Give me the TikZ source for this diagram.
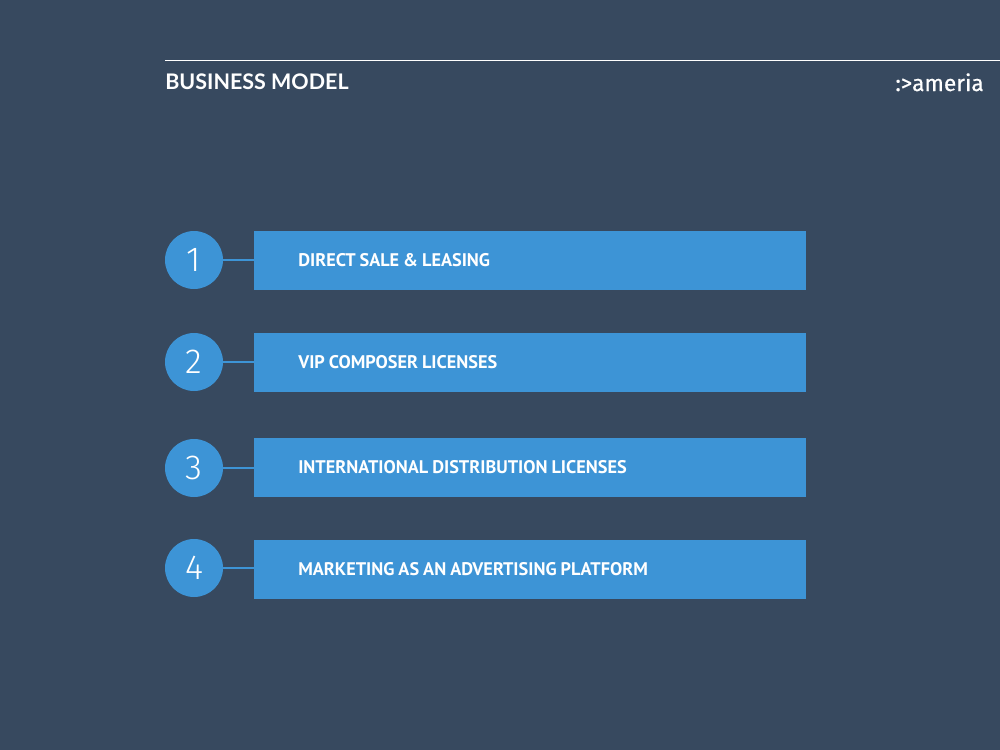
\documentclass[tikz,border=0pt]{standalone}
\usepackage{fontspec}
\setmainfont{PT Sans}
\newfontfamily\titlefont{Lato}
\newfontfamily\thinfont{Fira Sans Light}
\newfontfamily\logofont[FakeBold=.5]{Fira Sans}
\usepackage{xcolor}
\definecolor{Slate}{HTML}{37495F}
\definecolor{Sky}{HTML}{3D94D6}
\usetikzlibrary{positioning}
\tikzset{
	node distance = 23.25pt,
	numdot/.style={
		circle,
		fill=Sky,
		text=white,
		outer sep=0pt,
		inner sep=0pt,
		minimum size=43.5pt,
		font=\thinfont\fontsize{26pt}{26pt}\selectfont
	},
	itembar/.style={
		fill=Sky,
		text=white,
		outer sep=0pt,
		inner xsep=33.2pt,
		inner ysep=0pt,
		text width=347.6pt,
		align=left,
		minimum height=44.25pt,
		font=\fontsize{13.7pt}{15pt}\selectfont\bfseries,
		execute at begin node={\spaceskip=3pt\relax}
	},
	link/.style={
		draw=Sky,
		line width=1.5pt
	}
}
\begin{document}
\begin{tikzpicture}[x=.75pt, y=-.75pt]
	\useasboundingbox[fill=Slate] (0,0) rectangle (1000,750);

	\coordinate (ruleL) at (165,60.5);
	\coordinate (ruleR) at (1000,60.5);
	\draw[white, line width=.9pt] (ruleL) -- (ruleR);
	\node (title) [anchor=base west, inner sep=0pt, text=white] at (165,89) {\titlefont\fontsize{16.1pt}{18pt}\selectfont\bfseries BUSINESS MODEL};
	\node (logo) [anchor=base east, inner sep=0pt, text=white] at (984,91) {\logofont\fontsize{17pt}{20pt}\selectfont :>ameria};

	\node (c1) [numdot] at (194,260) {1};
	\node (c2) [numdot] at (194,362) {2};
	\node (c3) [numdot] at (194,468) {3};
	\node (c4) [numdot] at (194,568) {4};
	\node (b1) [itembar, right = of c1, yshift=-.4pt] {DIRECT SALE \& LEASING};
	\node (b2) [itembar, right = of c2, yshift=-.4pt] {VIP COMPOSER LICENSES};
	\node (b3) [itembar, right = of c3, yshift=.4pt] {INTERNATIONAL DISTRIBUTION LICENSES};
	\node (b4) [itembar, right = of c4, yshift=-1.1pt] {MARKETING AS AN ADVERTISING PLATFORM};

	\draw[link] (c1) -- (c1 -| b1.west);
	\draw[link] (c2) -- (c2 -| b2.west);
	\draw[link] (c3) -- (c3 -| b3.west);
	\draw[link] (c4) -- (c4 -| b4.west);
\end{tikzpicture}
\end{document}
